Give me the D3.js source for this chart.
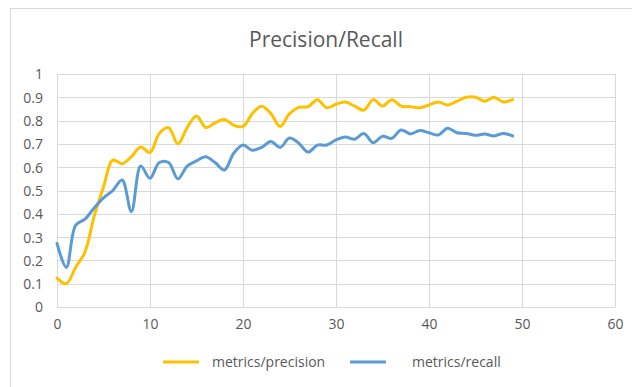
<!DOCTYPE html>
<html>
<head>
<meta charset="utf-8">
<script src="https://cdn.jsdelivr.net/npm/d3@7"></script>
<style>
  html, body { margin: 0; padding: 0; background: #fff; }
  svg { display: block; font-family: "Open Sans", "Noto Sans", sans-serif; }
</style>
</head>
<body>
<svg id="chart" width="632" height="387"></svg>
<script>
// Training metrics per epoch
const epochs = d3.range(0, 50);
const precision = [
  0.124, 0.10, 0.17, 0.235, 0.39, 0.515, 0.63, 0.615, 0.645, 0.687,
  0.663, 0.745, 0.77, 0.70, 0.77, 0.82, 0.77, 0.79, 0.805, 0.78,
  0.775, 0.83, 0.862, 0.83, 0.775, 0.83, 0.857, 0.86, 0.89, 0.855,
  0.87, 0.88, 0.862, 0.845, 0.89, 0.862, 0.89, 0.862, 0.86, 0.855,
  0.867, 0.88, 0.867, 0.883, 0.90, 0.90, 0.883, 0.90, 0.88, 0.89
];
const recall = [
  0.273, 0.17, 0.35, 0.377, 0.425, 0.468, 0.50, 0.545, 0.41, 0.605,
  0.553, 0.62, 0.62, 0.55, 0.605, 0.627, 0.645, 0.62, 0.588, 0.66,
  0.695, 0.673, 0.685, 0.71, 0.685, 0.725, 0.703, 0.665, 0.695, 0.695,
  0.717, 0.73, 0.72, 0.745, 0.705, 0.733, 0.724, 0.76, 0.743, 0.757,
  0.748, 0.738, 0.767, 0.748, 0.745, 0.737, 0.742, 0.734, 0.745, 0.734
];
const xTicks = [0, 10, 20, 30, 40, 50, 60];
const yTicks = [0, 0.1, 0.2, 0.3, 0.4, 0.5, 0.6, 0.7, 0.8, 0.9, 1];
const seriesNames = ["metrics/precision", "metrics/recall"];
const seriesColors = ["#FFC000", "#5B9BD5"];
const titleText = "Precision/Recall";

const svg = d3.select("#chart");
const plot = { left: 57, right: 615, top: 74, bottom: 307 };

// outer chart frame
svg.append("path")
  .attr("d", "M10.5,387 V8.5 H632")
  .attr("fill", "none")
  .attr("stroke", "#d9d9d9")
  .attr("stroke-width", 1);

const x = d3.scaleLinear().domain([0, 60]).range([plot.left, plot.right]);
const y = d3.scaleLinear().domain([0, 1]).range([plot.bottom, plot.top]);

// gridlines
const grid = svg.append("g").attr("stroke", "#d9d9d9").attr("stroke-width", 1);
grid.selectAll("line.h").data(yTicks).join("line")
  .attr("x1", plot.left).attr("x2", plot.right)
  .attr("y1", d => Math.round(y(d)) + 0.5).attr("y2", d => Math.round(y(d)) + 0.5);
grid.selectAll("line.v").data(xTicks).join("line")
  .attr("y1", plot.top).attr("y2", plot.bottom)
  .attr("x1", d => Math.round(x(d)) + 0.5).attr("x2", d => Math.round(x(d)) + 0.5);

// axes (labels only)
const yAxis = svg.append("g")
  .attr("transform", `translate(${plot.left - 14},0)`)
  .call(d3.axisLeft(y).tickValues(yTicks).tickSize(0).tickPadding(0).tickFormat(d3.format("")));
const xAxis = svg.append("g")
  .attr("transform", `translate(0,${plot.bottom + 12})`)
  .call(d3.axisBottom(x).tickValues(xTicks).tickSize(0).tickPadding(0).tickFormat(d3.format("")));
[yAxis, xAxis].forEach(a => {
  a.select(".domain").remove();
  a.selectAll("text")
    .attr("fill", "#595959")
    .attr("font-size", 14)
    .attr("font-family", "'Open Sans', sans-serif");
});
yAxis.selectAll("text").attr("dy", "0.35em");
xAxis.selectAll("text").attr("dy", "0.71em");

// series lines
const line = d3.line()
  .x((d, i) => x(epochs[i]))
  .y(d => y(d))
  .curve(d3.curveCatmullRom.alpha(0.5));

[precision, recall].forEach((vals, k) => {
  svg.append("path")
    .datum(vals)
    .attr("d", line)
    .attr("fill", "none")
    .attr("stroke", seriesColors[k])
    .attr("stroke-width", 3)
    .attr("stroke-linejoin", "round")
    .attr("stroke-linecap", "round");
});

// title
svg.append("text")
  .attr("x", 326).attr("y", 47)
  .attr("text-anchor", "middle")
  .attr("fill", "#595959")
  .attr("font-size", 21)
  .text(titleText);

// legend
const legendItems = [
  { name: seriesNames[0], color: seriesColors[0], x0: 163, tx: 212 },
  { name: seriesNames[1], color: seriesColors[1], x0: 350, tx: 412 }
];
const lg = svg.append("g");
legendItems.forEach(it => {
  lg.append("line")
    .attr("x1", it.x0).attr("x2", it.x0 + 36)
    .attr("y1", 362).attr("y2", 362)
    .attr("stroke", it.color).attr("stroke-width", 3);
  lg.append("text")
    .attr("x", it.tx).attr("y", 362).attr("dy", "0.35em")
    .attr("fill", "#595959").attr("font-size", 14)
    .text(it.name);
});
</script>
</body>
</html>
